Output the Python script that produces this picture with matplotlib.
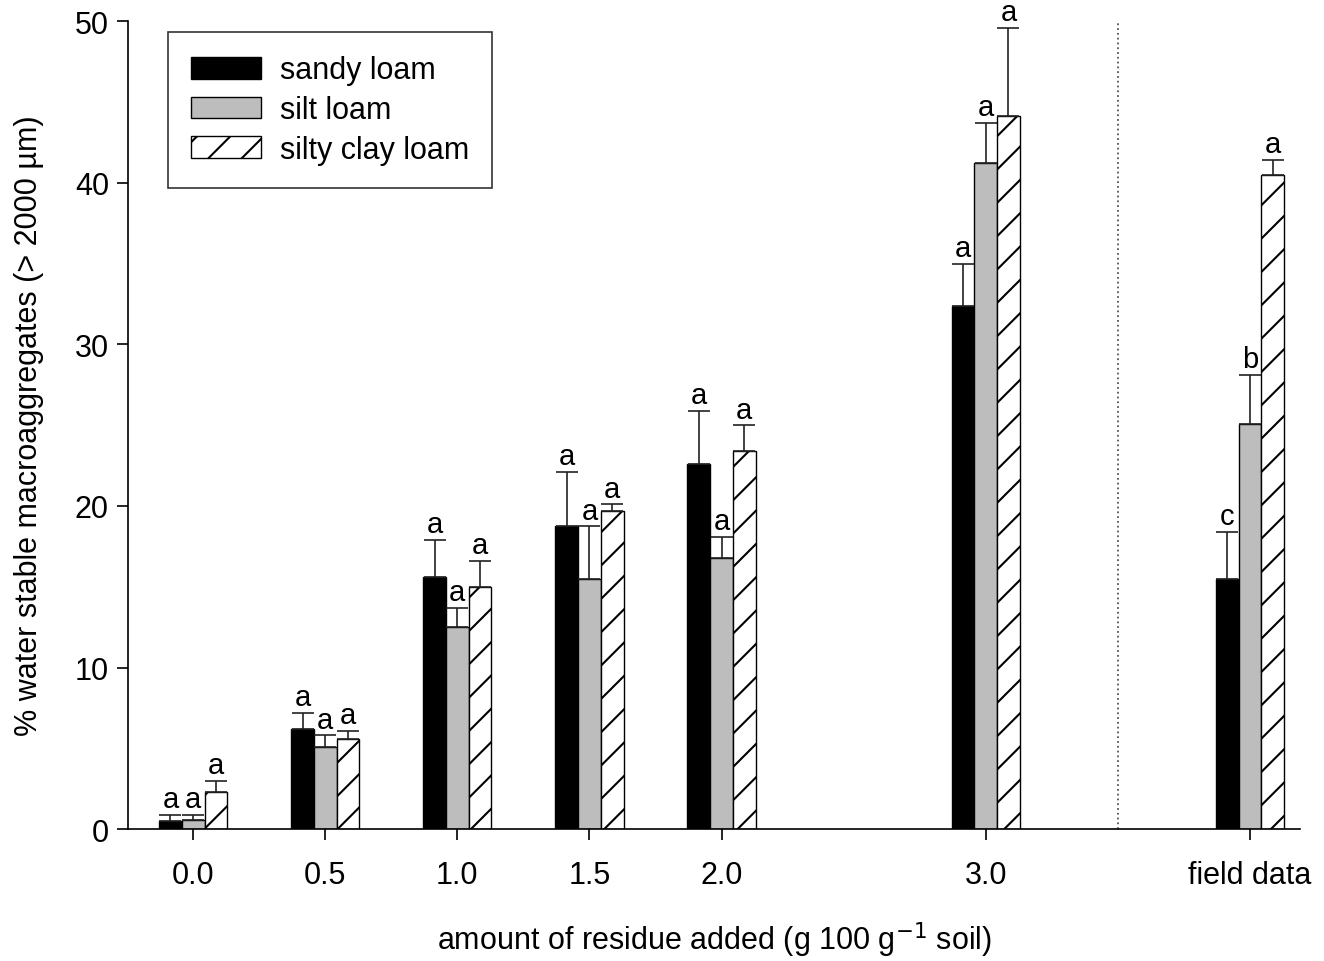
import numpy as np
import matplotlib.pyplot as plt

plt.rcParams['font.family'] = ['Liberation Sans', 'DejaVu Sans']
plt.rcParams['hatch.linewidth'] = 1.5

# group positions (field data set apart after the dotted line)
group_pos = [0.0, 0.5, 1.0, 1.5, 2.0, 3.0, 4.0]
tick_labels = ['0.0', '0.5', '1.0', '1.5', '2.0', '3.0', 'field data']

series_names = ['sandy loam', 'silt loam', 'silty clay loam']

sandy = [0.5, 6.2, 15.6, 18.75, 22.6, 32.4, 15.5]
sandy_err = [0.4, 1.0, 2.3, 3.35, 3.3, 2.6, 2.9]
silt = [0.6, 5.1, 12.5, 15.5, 16.8, 41.2, 25.1]
silt_err = [0.3, 0.7, 1.2, 3.25, 1.3, 2.5, 3.0]
clay = [2.3, 5.6, 15.0, 19.7, 23.4, 44.1, 40.5]
clay_err = [0.7, 0.5, 1.6, 0.4, 1.6, 5.5, 0.9]

sandy_let = ['a', 'a', 'a', 'a', 'a', 'a', 'c']
silt_let = ['a', 'a', 'a', 'a', 'a', 'a', 'b']
clay_let = ['a', 'a', 'a', 'a', 'a', 'a', 'a']

fig = plt.figure(figsize=(13.24, 9.62), dpi=100)
ax = fig.add_axes([0.097, 0.137, 0.885, 0.84])

w = 0.086
x = np.array(group_pos)

styles = [dict(color='black', edgecolor='black'),
          dict(color='#bdbdbd', edgecolor='black'),
          dict(color='white', edgecolor='black', hatch='/')]
vals = [sandy, silt, clay]
errs = [sandy_err, silt_err, clay_err]
lets = [sandy_let, silt_let, clay_let]

for i in range(3):
    xs = x + (i - 1) * w
    ax.bar(xs, vals[i], width=w, linewidth=1.0, label=series_names[i], zorder=2, **styles[i])
    ax.errorbar(xs, vals[i], yerr=[np.zeros(len(xs)), errs[i]], fmt='none',
                ecolor='#222222', elinewidth=1.2, capsize=8, capthick=1.2, zorder=3)
    for xx, v, e, l in zip(xs, vals[i], errs[i], lets[i]):
        ax.text(xx, v + e + 0.1, l, ha='center', va='bottom', fontsize=21)

ax.axvline(3.5, color='#555555', linestyle=':', linewidth=1.3)

ax.set_xlim(-0.245, 4.19)
ax.set_ylim(0, 50)
ax.set_xticks(group_pos)
ax.set_xticklabels(tick_labels)
ax.set_yticks([0, 10, 20, 30, 40, 50])
ax.tick_params(labelsize=22, direction='out', length=8, width=1.2)
ax.tick_params(axis='x', pad=14)
ax.tick_params(axis='y', pad=6)
ax.spines['top'].set_visible(False)
ax.spines['right'].set_visible(False)
ax.spines['left'].set_linewidth(1.2)
ax.spines['bottom'].set_linewidth(1.2)

ax.set_ylabel('% water stable macroaggregates (> 2000 µm)', fontsize=22)
ax.set_xlabel('amount of residue added (g 100 g$^{-1}$ soil)', fontsize=22)
ax.yaxis.set_label_coords(-0.072, 0.5)
ax.xaxis.set_label_coords(0.5, -0.112)

leg = ax.legend(loc='upper left', bbox_to_anchor=(0.034, 0.986), fontsize=22,
                frameon=True, fancybox=False, edgecolor='black', borderaxespad=0,
                handlelength=2.3, handleheight=0.72, borderpad=0.75, labelspacing=0.32,
                handletextpad=0.6)
leg.get_frame().set_linewidth(1.2)

fig.savefig('out.png', dpi=100)
